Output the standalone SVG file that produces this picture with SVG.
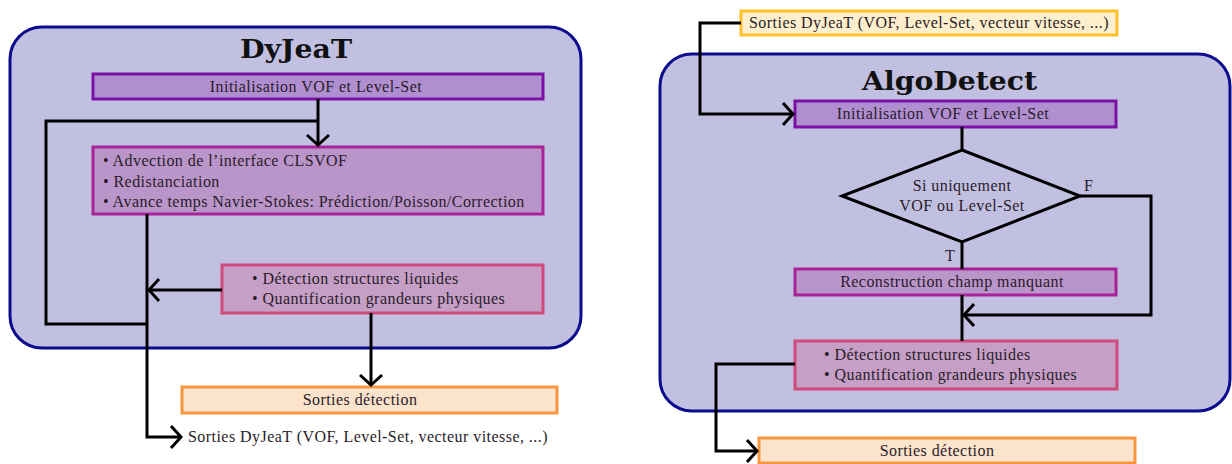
<svg xmlns="http://www.w3.org/2000/svg" width="1232" height="464" viewBox="0 0 1232 464">
<defs>
<marker id="arr" markerUnits="userSpaceOnUse" markerWidth="30" markerHeight="30" viewBox="-15 -15 30 30" refX="0" refY="0" orient="auto" overflow="visible">
<path d="M-10,-11 L0,0 L-10,11" fill="none" stroke="#000" stroke-width="3"/>
</marker>
<style>
.outer{fill:#c2c0e1;stroke:#0c0c8e;stroke-width:3}
.init{fill:#b08fd1;stroke:#7c10a6;stroke-width:3}
.proc{fill:#b995c9;stroke:#a82298;stroke-width:3}
.det{fill:#c59fc6;stroke:#d04a7c;stroke-width:3}
.out{fill:#fce3cc;stroke:#f7963f;stroke-width:3}
.yel{fill:#fef0cd;stroke:#fdc12b;stroke-width:3}
.dia{fill:none;stroke:#000;stroke-width:3}
.c{fill:none;stroke:#000;stroke-width:3}
text{font-family:"Liberation Serif","DejaVu Serif",serif;font-size:16px;letter-spacing:0.45px;fill:#2a1c2a}
.t{font-family:"DejaVu Serif","Liberation Serif",serif;font-size:26px;font-weight:bold;fill:#111;letter-spacing:0}
.m{text-anchor:middle}
</style>
</defs>
<g id="dyjeat">
<rect class="outer" x="10" y="27" width="571" height="321" rx="32"/>
<text class="t" x="240" y="58" textLength="112" lengthAdjust="spacingAndGlyphs">DyJeaT</text>
</g>
<g id="dy-init">
<rect class="init" x="93" y="74" width="450" height="25"/>
<text class="m" x="316" y="92">Initialisation VOF et Level-Set</text>
</g>
<g id="dy-solver">
<rect class="proc" x="93" y="147" width="450" height="67"/>
<text x="103" y="166">• Advection de l’interface CLSVOF</text>
<text x="103" y="187">• Redistanciation</text>
<text x="103" y="207">• Avance temps Navier-Stokes: Prédiction/Poisson/Correction</text>
</g>
<g id="dy-detect">
<rect class="det" x="222" y="265" width="321" height="48"/>
<text x="252" y="284">• Détection structures liquides</text>
<text x="252" y="304">• Quantification grandeurs physiques</text>
</g>
<g id="dy-sorties-det">
<rect class="out" x="182" y="387" width="375" height="26"/>
<text class="m" x="360" y="405">Sorties détection</text>
</g>
<g id="dy-sorties">
<text x="188" y="442">Sorties DyJeaT (VOF, Level-Set, vecteur vitesse, ...)</text>
</g>
<g id="algodetect">
<rect class="outer" x="660" y="54" width="570" height="357" rx="32"/>
<text class="t" x="862" y="90" textLength="175" lengthAdjust="spacingAndGlyphs">AlgoDetect</text>
</g>
<g id="ad-input">
<rect class="yel" x="741" y="11" width="376" height="24"/>
<text class="m" x="929" y="28">Sorties DyJeaT (VOF, Level-Set, vecteur vitesse, ...)</text>
</g>
<g id="ad-init">
<rect class="init" x="795" y="101" width="321" height="26"/>
<text class="m" x="943" y="119">Initialisation VOF et Level-Set</text>
</g>
<g id="ad-decision">
<polygon class="dia" points="962,150 1080,196 962,242 842,196"/>
<text class="m" x="962" y="191">Si uniquement</text>
<text class="m" x="962" y="211">VOF ou Level-Set</text>
</g>
<g id="ad-recon">
<rect class="proc" x="795" y="269" width="321" height="26"/>
<text class="m" x="952" y="287">Reconstruction champ manquant</text>
</g>
<g id="ad-detect">
<rect class="det" x="795" y="341" width="322" height="48"/>
<text x="824" y="360">• Détection structures liquides</text>
<text x="824" y="380">• Quantification grandeurs physiques</text>
</g>
<g id="ad-sorties-det">
<rect class="out" x="759" y="438" width="376" height="25"/>
<text class="m" x="937" y="456">Sorties détection</text>
</g>
<g id="connectors">
<path class="c" d="M318,99 V145" marker-end="url(#arr)"/>
<path class="c" d="M147,324 H46 V121 H318"/>
<path class="c" d="M147,214 V437 H181" marker-end="url(#arr)"/>
<path class="c" d="M222,290 H149" marker-end="url(#arr)"/>
<path class="c" d="M371,313 V385" marker-end="url(#arr)"/>
<path class="c" d="M741,23 H700 V114 H793" marker-end="url(#arr)"/>
<path class="c" d="M962,127 V150"/>
<path class="c" d="M962,242 V269"/>
<path class="c" d="M1080,196 H1151 V315 H964" marker-end="url(#arr)"/>
<path class="c" d="M962,295 V341"/>
<path class="c" d="M795,364 H716 V451 H757" marker-end="url(#arr)"/>
<text x="1084" y="191">F</text>
<text x="945" y="261">T</text>
</g>
</svg>
